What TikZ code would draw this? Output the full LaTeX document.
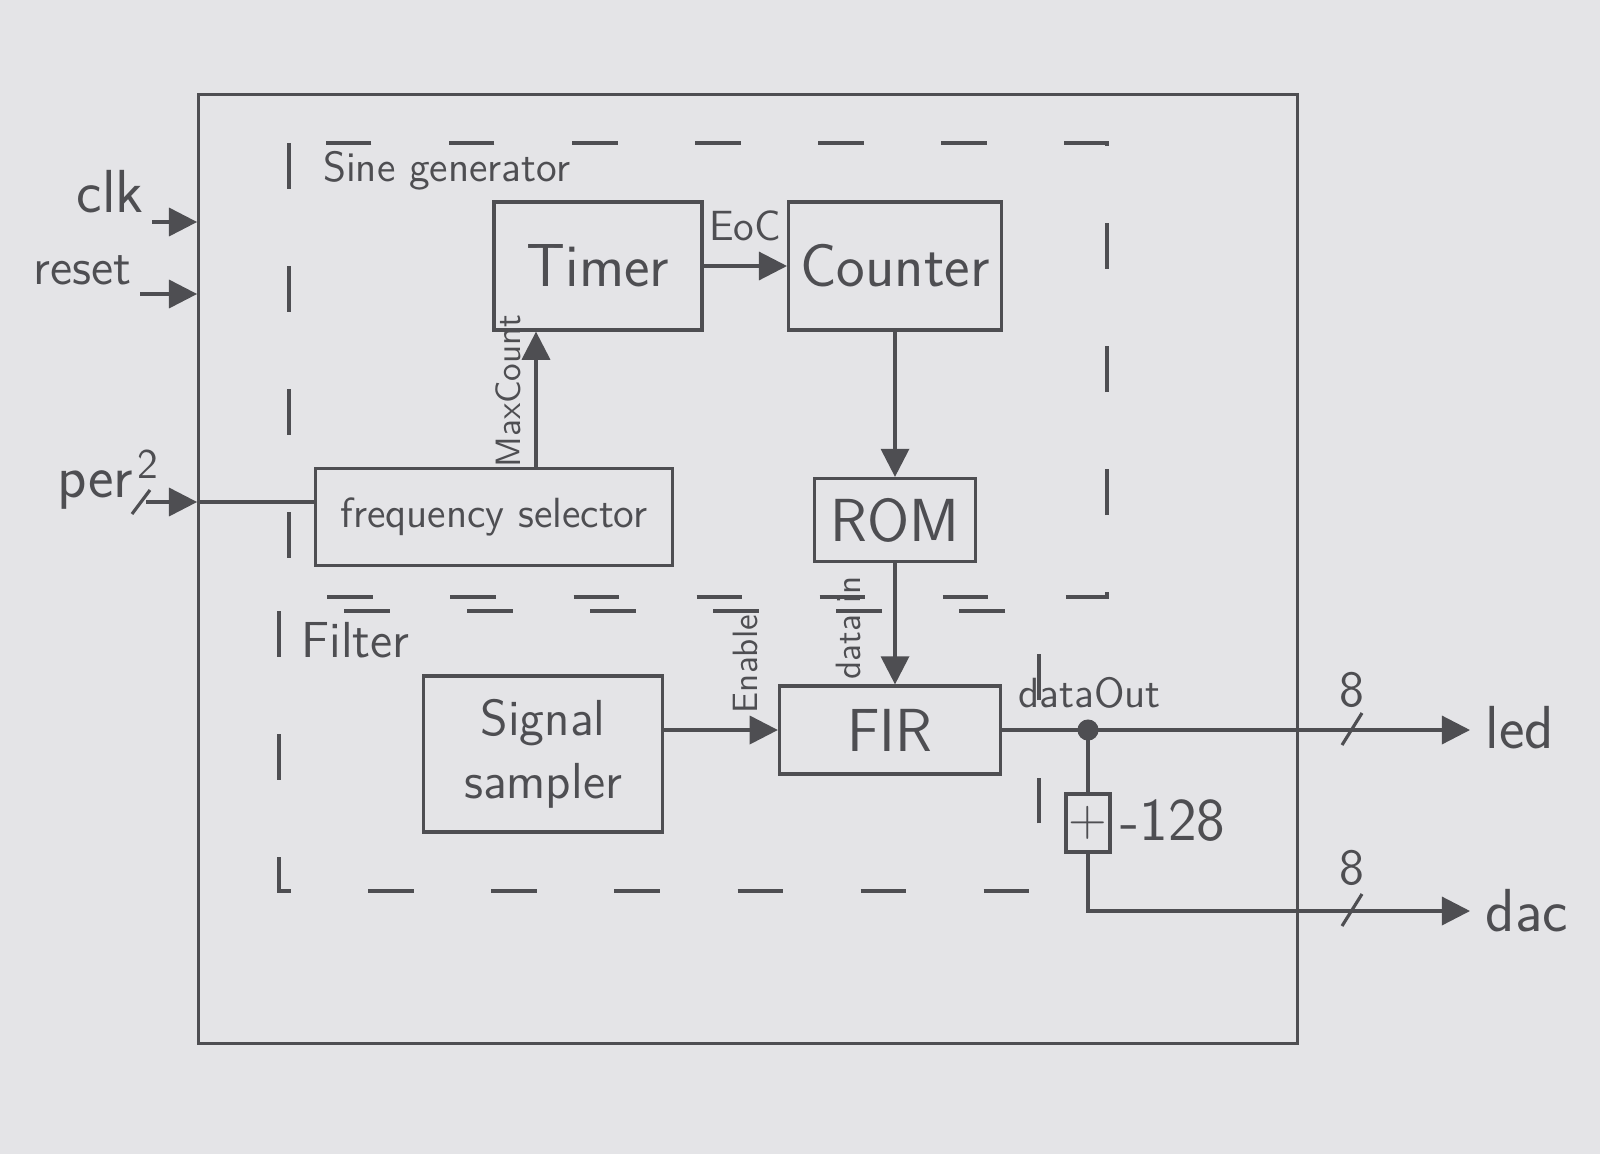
\documentclass[tikz,border=0pt]{standalone}
\usepackage{xcolor}
\usepackage{tikz}
\usetikzlibrary{arrows.meta, positioning, calc}
\renewcommand{\familydefault}{\sfdefault}
\definecolor{pencil}{RGB}{78, 78, 82}
\definecolor{paper}{RGB}{228, 228, 231}

\begin{document}
\begin{tikzpicture}[x=0.01cm, y=-0.01cm, pencil, line width=0.9pt,
        block/.style={draw, rectangle, font=\LARGE},
        zone/.style={draw, dash pattern=on 13pt off 22pt},
        sig/.style={-{Triangle[length=8pt, width=8pt]}},
        lbl/.style={font=\large}]
        % paper
        \fill[paper] (0,0) rectangle (1600,1154);
        \useasboundingbox (0,0) rectangle (1600,1154);

        % top level entity
        \node[draw, minimum width=10.98cm, minimum height=9.48cm] (top) at (748,569) {};

        % Sine generator
        \draw[zone] (289,143) rectangle (1107,597);
        \node[lbl, anchor=west] (sinelbl) at (310,171) {Sine generator};
        \node[block, minimum width=2.08cm, minimum height=1.28cm] (timer) at (598,266) {Timer};
        \node[block, minimum width=1.81cm, minimum height=1.28cm] (counter) at (895,266) {Counter};
        \node[block, font=\large, minimum width=3.57cm, minimum height=0.97cm] (freq) at (494,517) {frequency selector};
        \node[block, minimum width=1.61cm, minimum height=0.83cm] (rom) at (895,520) {ROM};
        \node[lbl] (eoc) at (745,226) {EoC};
        \node[rotate=90] (maxc) at (508,391) {MaxCount};

        \draw[sig] (timer.east) -- (counter.west);
        \draw[sig] (freq.north -| 536,0) -- (timer.south -| 536,0);
        \draw[sig] (counter.south) -- (rom.north);

        % Filter
        \draw[zone] (279,611) rectangle (1039,891);
        \node[font=\Large, anchor=west] (filtlbl) at (288,640) {Filter};
        \node[block, font=\Large, align=center, minimum width=2.39cm, minimum height=1.56cm] (sampler) at (543,754) {Signal\\ sampler};
        \node[block, minimum width=2.21cm, minimum height=0.88cm] (fir) at (890,730) {FIR};
        \node[rotate=90] (datain) at (848,628) {data in};
        \node[rotate=90] (enable) at (745,664) {Enable};

        \draw[sig] (rom.south) -- (rom.south |- fir.north);
        \draw[sig] (sampler.east |- fir.west) -- (fir.west);

        % inputs
        \node[font=\LARGE, anchor=south east, inner sep=2pt] (clk) at (152,222) {clk};
        \node[font=\Large, anchor=south east, inner sep=2pt] (reset) at (140,294) {reset};
        \node[font=\LARGE] (per) at (95,490) {per};
        \draw[sig] (clk.south east) -- (clk.south east -| top.west);
        \draw[sig] (reset.south east) -- (reset.south east -| top.west);
        \draw[sig] (per.east |- 0,502) -- (top.west |- 0,502);
        \draw (top.west |- 0,502) -- (freq.west |- 0,502);
        \draw (132,514) -- (150,490);
        \node[lbl] (perw) at (148,464) {2};

        % outputs
        \node[lbl, anchor=south west] (dataout) at (1005,722) {dataOut};
        \coordinate (tap) at (1088,730);
        \node[block, font=\Large, inner sep=0pt, minimum width=0.44cm, minimum height=0.58cm] (add) at (1088,823) {$+$};
        \node[font=\LARGE, anchor=west, inner sep=2pt] (sub) at (1112,821) {-128};
        \node[font=\LARGE, anchor=west, inner sep=4pt] (led) at (1470,728) {led};
        \node[font=\LARGE, anchor=west, inner sep=4pt] (dac) at (1470,911) {dac};
        \draw[sig] (fir.east) -- (led.west |- fir.east);
        \draw (tap) -- (add.north);
        \draw[sig] (add.south) |- (dac.west);
        \fill (tap) circle (3pt);

        % bus widths
        \draw (1342,745) -- (1362,713);
        \draw (1342,926) -- (1362,894);
        \node[font=\Large] (ledw) at (1352,690) {8};
        \node[font=\Large] (dacw) at (1352,868) {8};
    \end{tikzpicture}
\end{document}
